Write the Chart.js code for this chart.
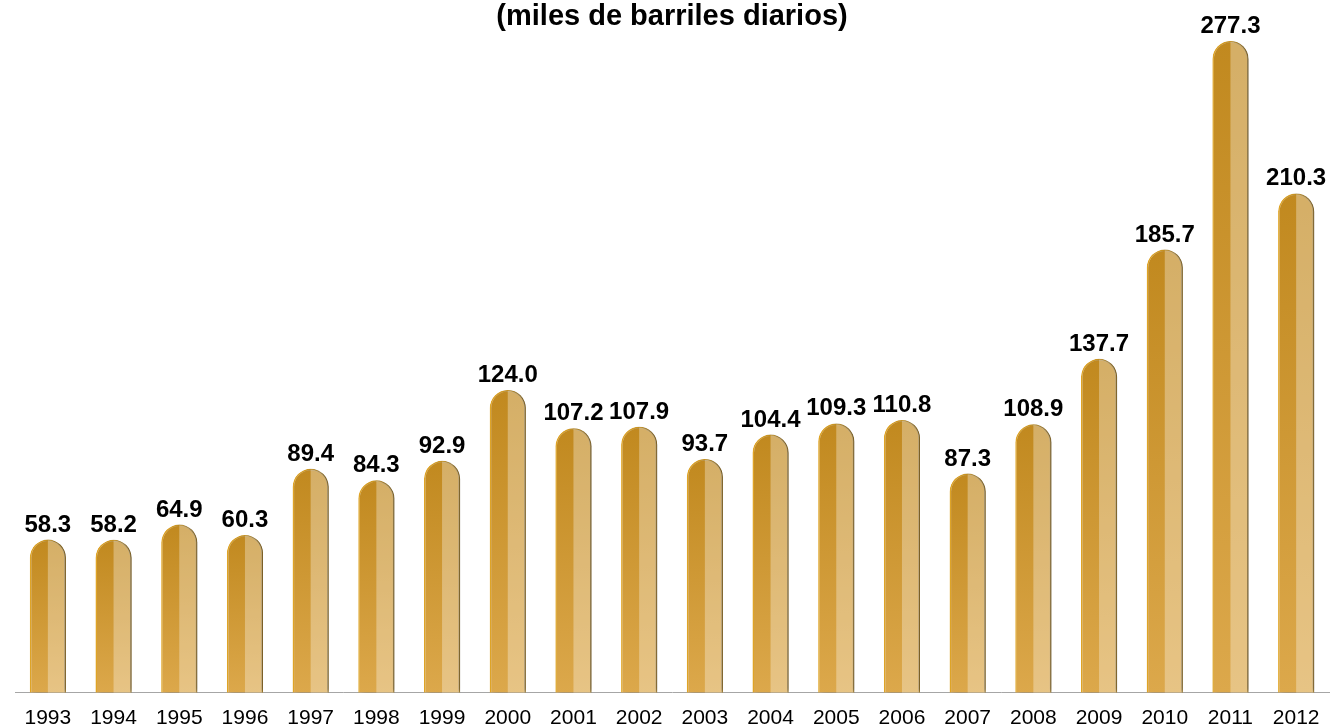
<!DOCTYPE html>
<html lang="es">
<head>
    <meta charset="UTF-8">
    <title>Producción (miles de barriles diarios)</title>
    <script src="https://cdn.jsdelivr.net/npm/chart.js"></script>
    <style>
        html, body { margin: 0; padding: 0; background: #ffffff; }
        .chart-box { width: 1333px; height: 727px; position: relative; }
    </style>
</head>
<body>
    <div class="chart-box">
        <canvas id="barChart"></canvas>
    </div>

    <script>
        // data
        const years = ['1993', '1994', '1995', '1996', '1997', '1998', '1999', '2000', '2001', '2002',
                       '2003', '2004', '2005', '2006', '2007', '2008', '2009', '2010', '2011', '2012'];
        const barrels = [58.3, 58.2, 64.9, 60.3, 89.4, 84.3, 92.9, 124.0, 107.2, 107.9,
                         93.7, 104.4, 109.3, 110.8, 87.3, 108.9, 137.7, 185.7, 277.3, 210.3];
        const titleText = '(miles de barriles diarios)';

        const Y_MIN = -9;
        const Y_MAX = 280;

        // vertical gold gradient per bar
        function goldFill(context) {
            const chart = context.chart;
            if (!chart.chartArea || context.raw === undefined) return '#C8922C';
            const y = chart.scales.y;
            const top = y.getPixelForValue(context.raw);
            const bottom = y.getPixelForValue(Y_MIN);
            const g = chart.ctx.createLinearGradient(0, top, 0, bottom);
            g.addColorStop(0, '#C1891F');
            g.addColorStop(1, '#DCA84B');
            return g;
        }

        // drop shadow to the right of the bars
        const barShadow = {
            id: 'barShadow',
            beforeDatasetsDraw(chart) {
                const ctx = chart.ctx;
                ctx.save();
                ctx.shadowColor = 'rgba(0,0,0,0.55)';
                ctx.shadowBlur = 4;
                ctx.shadowOffsetX = 4;
                ctx.shadowOffsetY = 0;
            },
            afterDatasetsDraw(chart) {
                chart.ctx.restore();
            }
        };

        // lighter right half + value labels
        const barDecor = {
            id: 'barDecor',
            afterDatasetsDraw(chart) {
                const ctx = chart.ctx;
                const meta = chart.getDatasetMeta(0);
                ctx.save();
                meta.data.forEach((bar, i) => {
                    const p = bar.getProps(['x', 'y', 'base', 'width'], true);
                    const r = p.width / 2;
                    ctx.save();
                    ctx.beginPath();
                    ctx.roundRect(p.x - r + 0.75, p.y + 0.75, p.width - 1.5, p.base - p.y - 0.75, [r, r, 0, 0]);
                    ctx.clip();
                    ctx.fillStyle = 'rgba(255,255,255,0.32)';
                    ctx.fillRect(p.x, p.y, r, p.base - p.y);
                    ctx.restore();

                    ctx.fillStyle = '#000000';
                    ctx.font = 'bold 24px Arial, "Liberation Sans", sans-serif';
                    ctx.textAlign = 'center';
                    ctx.textBaseline = 'alphabetic';
                    ctx.fillText(barrels[i].toFixed(1), p.x, p.y - 8);
                });
                ctx.restore();
            }
        };

        new Chart(document.getElementById('barChart'), {
            type: 'bar',
            data: {
                labels: years,
                datasets: [{
                    data: barrels,
                    base: Y_MIN,
                    backgroundColor: goldFill,
                    borderColor: '#E0A526',
                    borderWidth: 1.5,
                    borderSkipped: 'bottom',
                    borderRadius: { topLeft: 40, topRight: 40, bottomLeft: 0, bottomRight: 0 },
                    barPercentage: 0.55,
                    categoryPercentage: 1.0
                }]
            },
            options: {
                responsive: true,
                maintainAspectRatio: false,
                animation: false,
                layout: { padding: { left: 15, right: 4, top: 0, bottom: -17 } },
                plugins: {
                    legend: { display: false },
                    tooltip: { enabled: false },
                    title: {
                        display: true,
                        text: titleText,
                        color: '#000000',
                        font: { family: 'Arial, "Liberation Sans", sans-serif', size: 29, weight: 'bold' },
                        padding: { top: 0, bottom: 0 }
                    }
                },
                scales: {
                    x: {
                        grid: { display: false, drawTicks: false },
                        border: { display: true, color: '#A6A6A6', width: 1 },
                        ticks: {
                            color: '#000000',
                            padding: 13,
                            maxRotation: 0,
                            autoSkip: false,
                            font: { family: 'Arial, "Liberation Sans", sans-serif', size: 21 }
                        }
                    },
                    y: {
                        display: false,
                        min: Y_MIN,
                        max: Y_MAX
                    }
                }
            },
            plugins: [barShadow, barDecor]
        });
    </script>
</body>
</html>
